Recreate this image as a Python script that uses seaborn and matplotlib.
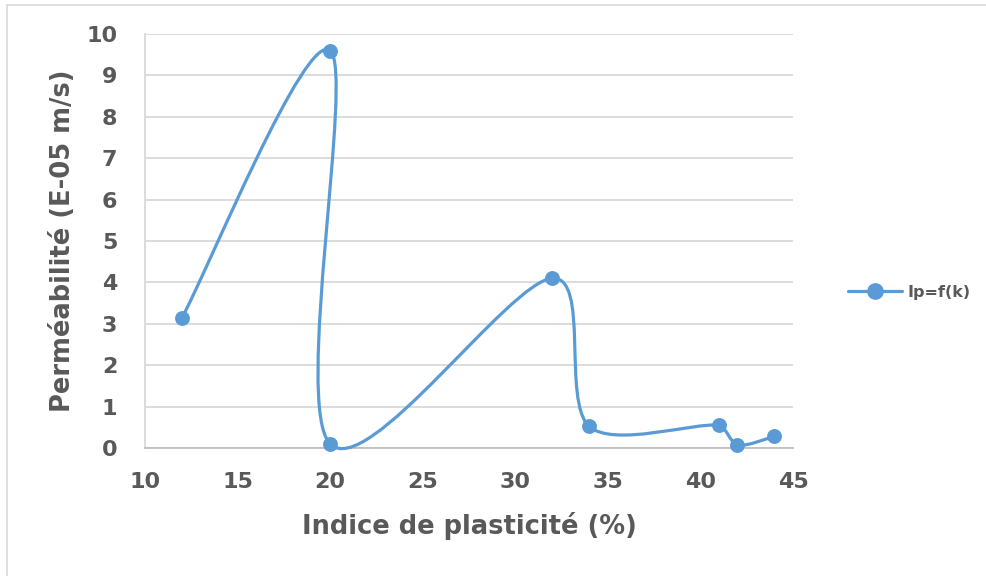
import numpy as np
import matplotlib
matplotlib.use("Agg")
import matplotlib.pyplot as plt
from matplotlib.path import Path
from matplotlib.patches import PathPatch
from matplotlib.lines import Line2D
import seaborn as sns
import pandas as pd

# Data
ip = [12, 20, 20, 32, 34, 41, 42, 44]
k = [3.15, 9.6, 0.1, 4.1, 0.52, 0.55, 0.07, 0.28]
series_name = "Ip=f(k)"
x_label = "Indice de plasticité (%)"
y_label = "Perméabilité (E-05 m/s)"
x_ticks = [10, 15, 20, 25, 30, 35, 40, 45]
y_ticks = [0, 1, 2, 3, 4, 5, 6, 7, 8, 9, 10]

sns.set_theme(style="white")
plt.rcParams['font.family'] = ['DejaVu Sans']
plt.rcParams['font.weight'] = 'bold'

BLUE = "#5B9BD5"
GREY = "#595959"

fig = plt.figure(figsize=(9.87, 5.76), dpi=100)
ax = fig.add_axes([145/987, 1-448/576, (793-145)/987, (448-34)/576])

df = pd.DataFrame({"ip": ip, "k": k})

ax.set_xlim(10, 45)
ax.set_ylim(0, 10)

# Smoothed line (Excel-like Bezier smoothing, computed in display space)
pts_disp = ax.transData.transform(np.column_stack([ip, k]).astype(float))
n = len(pts_disp)
verts = [pts_disp[0]]
codes = [Path.MOVETO]


def clamp(h, lim):
    L = np.hypot(*h)
    return h * (lim / L) if L > lim and L > 0 else h


for i in range(n - 1):
    p0 = pts_disp[i - 1] if i > 0 else pts_disp[i]
    p1 = pts_disp[i]
    p2 = pts_disp[i + 1]
    p3 = pts_disp[i + 2] if i + 2 < n else pts_disp[i + 1]
    chord = np.hypot(*(p2 - p1))
    h1 = clamp((p2 - p0) / 6.0, 0.25 * chord)
    h2 = clamp((p3 - p1) / 6.0, 0.25 * chord)
    verts += [p1 + h1, p2 - h2, p2]
    codes += [Path.CURVE4] * 3
verts_data = ax.transData.inverted().transform(np.array(verts))
path = Path(verts_data, codes)
ax.add_patch(PathPatch(path, facecolor="none", edgecolor=BLUE, lw=2.3,
                       transform=ax.transData, zorder=3, clip_on=False))

sns.scatterplot(data=df, x="ip", y="k", ax=ax, color=BLUE, s=115,
                edgecolor=BLUE, linewidth=0, zorder=4, clip_on=False)

ax.set_xlim(10, 45)
ax.set_ylim(0, 10)
ax.set_xticks(x_ticks)
ax.set_yticks(y_ticks)
ax.grid(axis="y", color="#D9D9D9", lw=1.3)
ax.grid(axis="x", visible=False)
ax.set_axisbelow(True)
for s in ["top", "right"]:
    ax.spines[s].set_visible(False)
ax.spines["left"].set_color("#D9D9D9")
ax.spines["left"].set_linewidth(1.3)
ax.spines["bottom"].set_color("#BFBFBF")
ax.spines["bottom"].set_linewidth(1.3)
ax.tick_params(axis="both", length=0, labelsize=16, labelcolor=GREY)
ax.tick_params(axis="x", pad=17)
ax.tick_params(axis="y", pad=20)
for lab in ax.get_xticklabels() + ax.get_yticklabels():
    lab.set_fontweight("bold")

ax.set_xlabel(x_label, fontsize=18.5, fontweight="bold", color=GREY, labelpad=15)
ax.set_ylabel(y_label, fontsize=18.5, fontweight="bold", color=GREY, labelpad=7)

handle = Line2D([0], [0], color=BLUE, lw=2.3, marker="o", markersize=11)
fig.legend([handle], [series_name], loc="center left",
           bbox_to_anchor=(848/987, 1-292/576), frameon=False,
           borderaxespad=0, borderpad=0,
           handlelength=3.4, handletextpad=0.3,
           labelcolor=GREY, prop={'weight': 'bold', 'size': 11.5})

# Chart-area border (light grey, as in the reference)
fig.add_artist(Line2D([7/987, 7/987], [0, 1-5/576], transform=fig.transFigure,
                      color="#D9D9D9", lw=1.2))
fig.add_artist(Line2D([7/987, 1], [1-5/576, 1-5/576], transform=fig.transFigure,
                      color="#D9D9D9", lw=1.2))

fig.savefig("out.png", dpi=100)
